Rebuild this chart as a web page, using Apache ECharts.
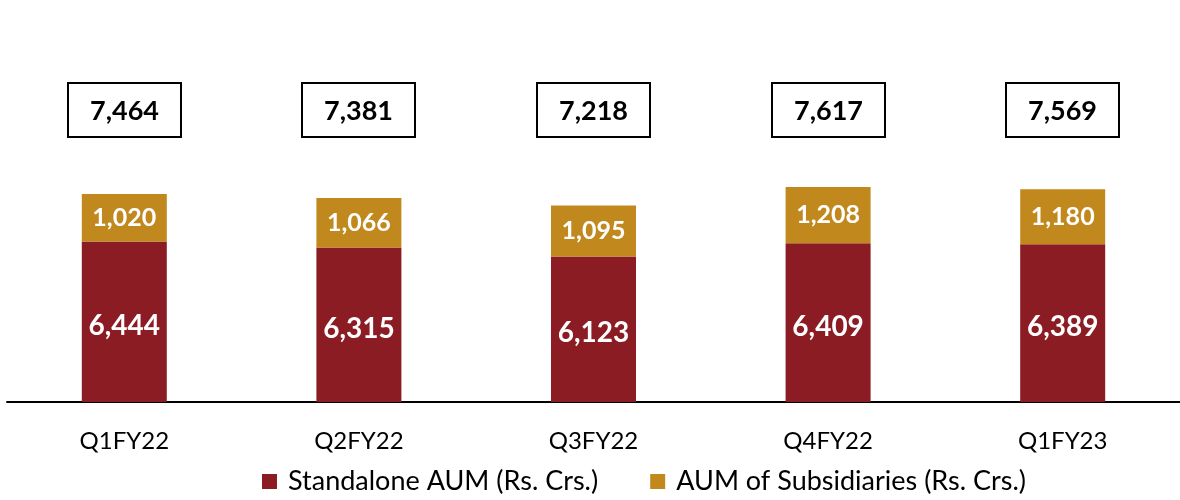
<!DOCTYPE html>
<html>
<head>
<meta charset="utf-8">
<script src="https://cdn.jsdelivr.net/npm/echarts@6/dist/echarts.min.js"></script>
<style>
html, body { margin: 0; padding: 0; background: #fff; }
#chart { width: 1180px; height: 500px; }
</style>
</head>
<body>
<div id="chart"></div>
<script>
// 季度
const quarters = ['Q1FY22', 'Q2FY22', 'Q3FY22', 'Q4FY22', 'Q1FY23']
const standalone = [6444, 6315, 6123, 6409, 6389]
const subsidiaries = [1020, 1066, 1095, 1208, 1180]
const totals = standalone.map((v, i) => v + subsidiaries[i])

const red = '#8B1C24'
const gold = '#C1891D'
const FONT = 'Lato, "Open Sans", sans-serif'
// height (in axis units) where the total boxes sit
const TOTAL_ROW = 9270

const myChart = echarts.init(document.getElementById('chart'))
const fmt = p => Number(p.value).toLocaleString('en-US')

// boxed total above each bar
function renderTotal(params, api) {
  const c = api.coord([api.value(0), TOTAL_ROW])
  const x = Math.round(c[0] - 56.5)
  const y = Math.round(c[1] - 27)
  return {
    type: 'group',
    children: [
      {
        type: 'rect',
        shape: { x: x, y: y, width: 113, height: 54 },
        style: { fill: '#fff', stroke: '#000', lineWidth: 2 }
      },
      {
        type: 'text',
        x: x + 56.5,
        y: y + 28,
        style: {
          text: totals[api.value(0)].toLocaleString('en-US'),
          fill: '#000',
          font: 'bold 27px ' + FONT,
          align: 'center',
          verticalAlign: 'middle'
        }
      }
    ]
  }
}

const option = {
  animation: false,
  grid: { left: 7, right: -12, top: 76, bottom: 98 },
  legend: {
    bottom: 0,
    left: 257,
    itemWidth: 15,
    itemHeight: 15,
    itemGap: 52,
    icon: 'rect',
    textStyle: { fontFamily: FONT, fontSize: 27, color: '#000', padding: [0, 0, 0, 6] },
    data: ['Standalone AUM (Rs. Crs.)', 'AUM of Subsidiaries (Rs. Crs.)']
  },
  xAxis: {
    type: 'category',
    data: quarters,
    axisLine: { lineStyle: { color: '#000', width: 2 } },
    axisTick: { show: false },
    axisLabel: { fontFamily: FONT, fontSize: 24, color: '#000', margin: 27 }
  },
  yAxis: {
    type: 'value',
    min: 3000,
    max: 10000,
    show: false,
    splitLine: { show: false }
  },
  series: [
    {
      name: 'Standalone AUM (Rs. Crs.)',
      type: 'bar',
      stack: 'aum',
      barWidth: 85,
      data: standalone,
      itemStyle: { color: red },
      label: {
        show: true,
        position: 'inside',
        formatter: fmt,
        color: '#fff',
        fontFamily: FONT,
        fontWeight: 'bold',
        fontSize: 28,
        offset: [0, 4]
      }
    },
    {
      name: 'AUM of Subsidiaries (Rs. Crs.)',
      type: 'bar',
      stack: 'aum',
      barWidth: 85,
      data: subsidiaries,
      itemStyle: { color: gold },
      label: {
        show: true,
        position: 'inside',
        formatter: fmt,
        color: '#fff',
        fontFamily: FONT,
        fontWeight: 'bold',
        fontSize: 25
      }
    },
    {
      name: 'total',
      type: 'custom',
      silent: true,
      renderItem: renderTotal,
      data: totals.map((t, i) => [i, t])
    }
  ]
}
myChart.setOption(option)
</script>
</body>
</html>
